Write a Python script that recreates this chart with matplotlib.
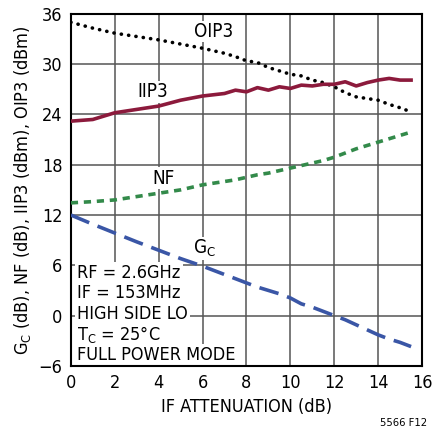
import matplotlib.pyplot as plt

plt.rcParams['font.family'] = ['DejaVu Sans']
plt.rcParams['font.stretch'] = 'condensed'

atten = [0, 1, 2, 3, 4, 5, 6, 7, 7.5, 8, 8.5, 9, 9.5, 10, 10.5, 11, 11.5, 12, 12.5, 13, 13.5, 14, 14.5, 15, 15.5]
oip3 = [35.0, 34.3, 33.7, 33.3, 32.9, 32.4, 31.9, 31.3, 30.9, 30.4, 30.2, 29.6, 29.2, 28.8, 28.6, 28.1, 27.8, 27.3, 26.6,
        26.1, 25.9, 25.7, 25.2, 24.8, 24.3]
iip3 = [23.2, 23.4, 24.2, 24.6, 25.0, 25.7, 26.2, 26.5, 26.9, 26.7, 27.2, 26.9, 27.3, 27.1, 27.5, 27.4, 27.6, 27.6,
        27.9, 27.4, 27.8, 28.1, 28.3, 28.1, 28.1]
nf = [13.45, 13.6, 13.8, 14.2, 14.6, 15.0, 15.6, 16.0, 16.2, 16.5, 16.8, 17.0, 17.3, 17.6, 17.9, 18.2, 18.5, 18.9, 19.4,
      19.9, 20.3, 20.7, 21.1, 21.5, 21.9]
gc = [12.0, 10.9, 9.85, 8.8, 7.8, 6.8, 5.9, 4.9, 4.4, 3.9, 3.4, 3.0, 2.6, 2.1, 1.4, 1.0, 0.5, 0.0, -0.5, -1.1, -1.7,
      -2.3, -2.8, -3.2, -3.7]

xticks = [0, 2, 4, 6, 8, 10, 12, 14, 16]
yticks = [-6, 0, 6, 12, 18, 24, 30, 36]

fig = plt.figure(figsize=(4.32, 4.34), dpi=100)
ax = fig.add_axes([0.164, 0.157, 0.813, 0.811])

ax.plot(atten, oip3, color='black', lw=2.6, linestyle=(0, (0.05, 2.0)), dash_capstyle='round', zorder=3)
ax.plot(atten, iip3, color='#8c1a3c', lw=2.6, zorder=3)
ax.plot(atten, nf, color='#338a4a', lw=2.6, linestyle=(0, (2.0, 1.6)), zorder=3)
ax.plot(atten, gc, color='#3a56a6', lw=2.6, linestyle=(0, (5.5, 2.5)), zorder=3)

ax.set_xlim(0, 16)
ax.set_ylim(-6, 36)
ax.set_xticks(xticks)
ax.set_yticks(yticks)
ax.set_yticklabels([str(v).replace('-', '\u2212') for v in yticks])
ax.tick_params(length=0, labelsize=13, pad=6)
ax.grid(True, color='#555555', lw=1.1)
ax.set_axisbelow(True)
for s in ax.spines.values():
    s.set_linewidth(1.5)

ax.set_xlabel('IF ATTENUATION (dB)', fontsize=13, labelpad=4)
ax.set_ylabel(r'G$_\mathregular{C}$ (dB), NF (dB), IIP3 (dBm), OIP3 (dBm)', fontsize=13, labelpad=4)

lbl = dict(fontsize=13.5, ha='center', va='center', zorder=2,
           bbox=dict(facecolor='white', edgecolor='none', pad=1))
ax.text(6.5, 33.9, 'OIP3', **lbl)
ax.text(3.75, 26.7, 'IIP3', **lbl)
ax.text(4.2, 16.4, 'NF', **lbl)
ax.text(6.1, 8.0, r'G$_\mathregular{C}$', **lbl)

notes = ['RF = 2.6GHz', 'IF = 153MHz', 'HIGH SIDE LO', r'T$_\mathregular{C}$ = 25°C', 'FULL POWER MODE']
for i, line in enumerate(notes):
    ax.text(0.3, 5.1 - i * 2.45, line, fontsize=13, ha='left', va='center', zorder=2,
            bbox=dict(facecolor='white', edgecolor='none', pad=1.5))

fig.text(0.935, 0.014, '5566 F12', fontsize=8, ha='center', va='bottom')

fig.savefig('out.png', dpi=100)
